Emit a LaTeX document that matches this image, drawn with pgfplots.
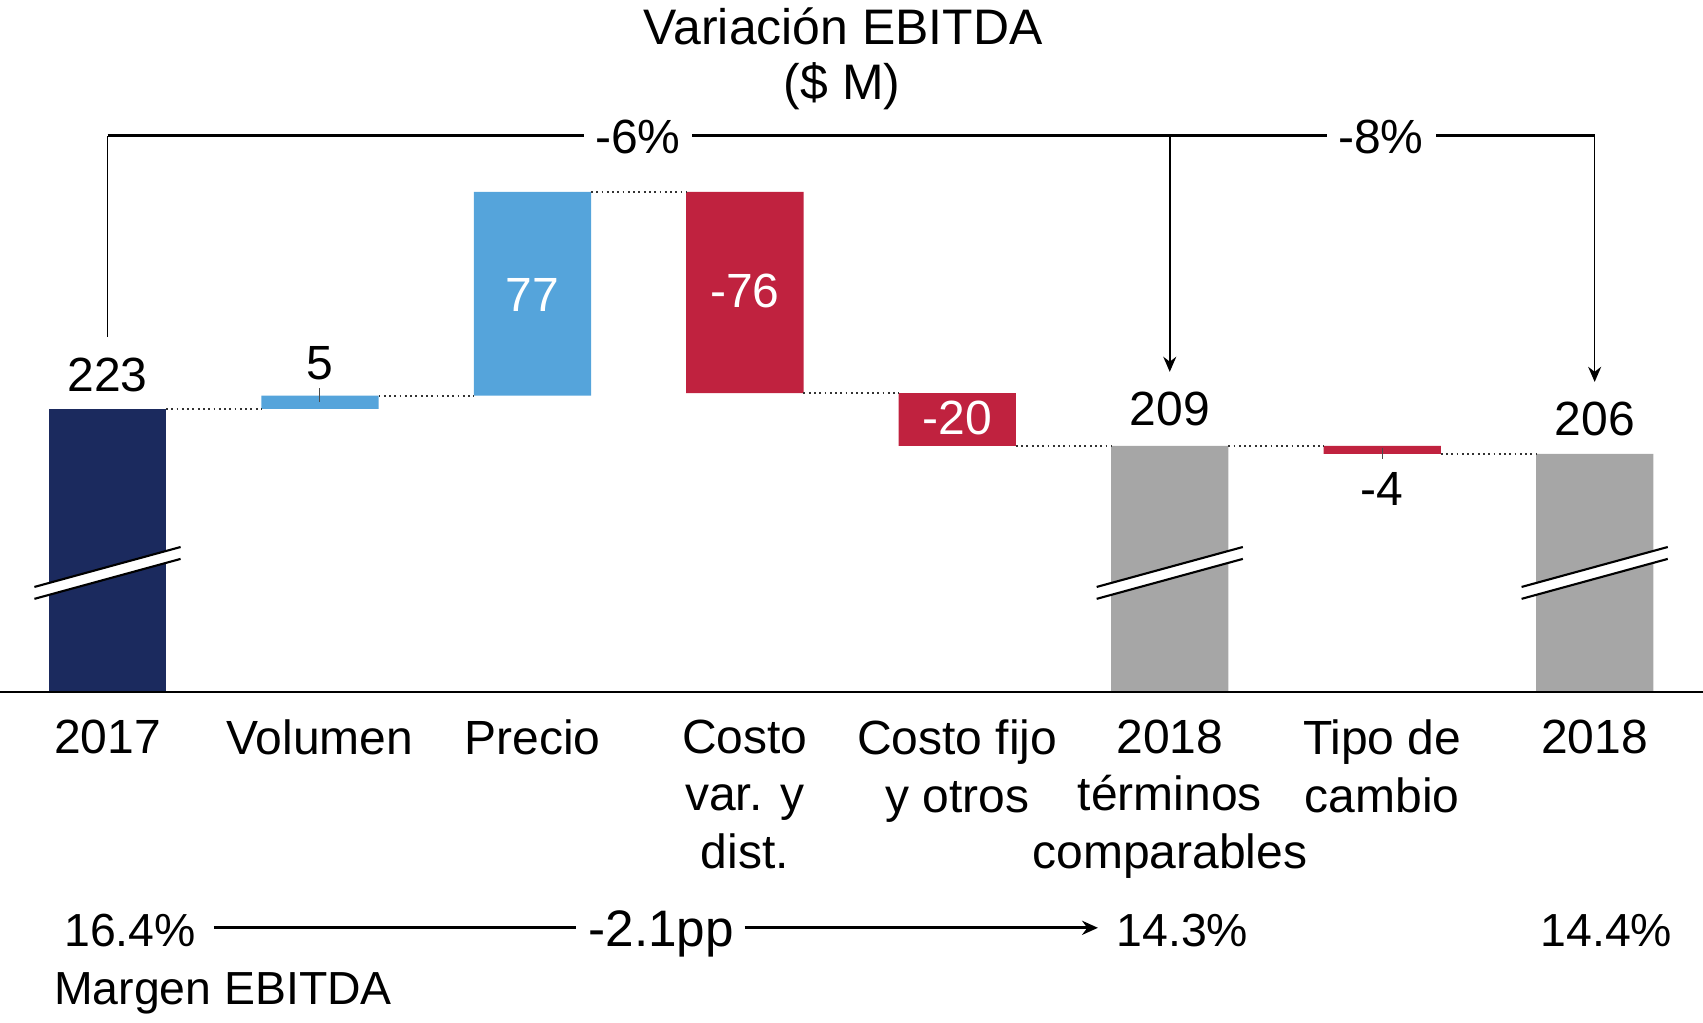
\documentclass[border=0pt]{standalone}
\usepackage{pgfplots}
\pgfplotsset{compat=1.18}
\usepackage{fontspec}
\setmainfont{Liberation Sans}
\usetikzlibrary{arrows.meta}
\definecolor{navy}{HTML}{1B2A5E}
\definecolor{cblue}{HTML}{55A4DB}
\definecolor{cred}{HTML}{C0223F}
\definecolor{cgray}{HTML}{A6A6A6}
\newcommand{\lab}{\fontsize{13.66}{16.5}\selectfont}
\newcommand{\brk}[1]{%
  \fill[white] (axis cs:#1-0.344,151.2) -- (axis cs:#1+0.344,166.3) -- (axis cs:#1+0.344,170.8) -- (axis cs:#1-0.344,155.7) -- cycle;
  \draw[line width=0.6pt] (axis cs:#1-0.344,151.2) -- (axis cs:#1+0.344,166.3);
  \draw[line width=0.6pt] (axis cs:#1-0.344,155.7) -- (axis cs:#1+0.344,170.8);}
\begin{document}
\begin{tikzpicture}
\pgfplotsset{wf/.style={scale only axis, width=17.03cm, height=6.92cm,
  xmin=-0.506, xmax=7.51, ymin=116, ymax=377.57}}
\begin{axis}[wf, ybar stacked, bar width=0.552, hide axis]
\addplot[draw=none, fill=none] coordinates {(0,0) (1,223) (2,228) (3,229) (4,209) (5,0) (6,206) (7,0)};
\addplot[draw=none, fill=navy] coordinates {(0,223) (1,0) (2,0) (3,0) (4,0) (5,0) (6,0) (7,0)};
\addplot[draw=none, fill=cblue] coordinates {(0,0) (1,5) (2,77) (3,0) (4,0) (5,0) (6,0) (7,0)};
\addplot[draw=none, fill=cred] coordinates {(0,0) (1,0) (2,0) (3,76) (4,20) (5,0) (6,3) (7,0)};
\addplot[draw=none, fill=cgray] coordinates {(0,0) (1,0) (2,0) (3,0) (4,0) (5,209) (6,0) (7,206)};
\end{axis}
\begin{axis}[wf, clip=false, axis x line*=bottom, axis y line=none,
  x axis line style={-, line width=0.6pt},
  xtick={0,...,7}, major tick length=0pt,
  xticklabels={2017, Volumen, Precio, {Costo\\var. y\\dist.}, {Costo fijo\\y otros}, {2018\\términos\\comparables}, {Tipo de\\cambio}, 2018},
  xticklabel style={align=center, anchor=north, inner sep=0pt, yshift=-0.268cm, font=\lab}]
\coordinate (BL) at (rel axis cs:0,0);
\coordinate (TR) at (rel axis cs:1,1);
% connectors
\addplot[black!80, densely dotted, line width=0.5pt, unbounded coords=jump] coordinates {
 (0.276,223) (0.724,223) (0.8,nan)
 (1.276,228) (1.724,228) (1.8,nan)
 (2.276,305) (2.724,305) (2.8,nan)
 (3.276,229) (3.724,229) (3.8,nan)
 (4.276,209) (4.724,209) (4.8,nan)
 (5.276,209) (5.724,209) (5.8,nan)
 (6.276,206) (6.724,206)};
% breaks
\brk{0}\brk{5}\brk{7}
% leader ticks
\draw[black!70, line width=0.3pt] (axis cs:1,230.9) -- (axis cs:1,225.6);
\draw[black!70, line width=0.3pt] (axis cs:6,208.3) -- (axis cs:6,204.1);
% value labels
\node[anchor=base, font=\lab] at (axis cs:0,229.4) {223};
\node[anchor=base, font=\lab] at (axis cs:1,234.3) {5};
\node[anchor=base, font=\lab, text=white] at (axis cs:2,259.7) {77};
\node[anchor=base, font=\lab, text=white] at (axis cs:3,261.2) {-76};
\node[anchor=base, font=\lab, text=white] at (axis cs:4,213.2) {-20};
\node[anchor=base, font=\lab] at (axis cs:5,216.6) {209};
\node[anchor=base, font=\lab] at (axis cs:6,186.3) {-4};
\node[anchor=base, font=\lab] at (axis cs:7,212.8) {206};
% title
\node[anchor=base, font=\fontsize{14.2}{17}\selectfont] at (axis cs:3.463,360.6) {Variación EBITDA};
\node[anchor=base, font=\fontsize{14.2}{17}\selectfont] at (axis cs:3.458,339.8) {(\$ M)};
% bracket
\draw[line width=0.43pt] (axis cs:0,250.2) -- (axis cs:0,326.2);
\draw[line width=0.8pt] (axis cs:0,326.2) -- (axis cs:2.243,326.2);
\draw[line width=0.8pt] (axis cs:2.752,326.2) -- (axis cs:5.741,326.2);
\draw[line width=0.8pt] (axis cs:6.254,326.2) -- (axis cs:7,326.2);
\draw[line width=0.43pt, -{Stealth[length=4.3pt, width=3.7pt]}] (axis cs:5,326.2) -- (axis cs:5,237.0);
\draw[line width=0.43pt, -{Stealth[length=4.3pt, width=3.7pt]}] (axis cs:7,326.2) -- (axis cs:7,233.2);
\node[anchor=base, font=\lab] at (axis cs:2.496,319.7) {-6\%};
\node[anchor=base, font=\lab] at (axis cs:5.993,319.7) {-8\%};
% margin row
\node[anchor=base, font=\fontsize{13.2}{16}\selectfont] at (axis cs:0.106,19.67) {16.4\%};
\node[anchor=base, font=\fontsize{14.6}{17}\selectfont] at (axis cs:2.606,19.67) {-2.1pp};
\node[anchor=base, font=\fontsize{13.2}{16}\selectfont] at (axis cs:5.059,19.67) {14.3\%};
\node[anchor=base, font=\fontsize{13.2}{16}\selectfont] at (axis cs:7.055,19.67) {14.4\%};
\node[anchor=base, font=\fontsize{13.2}{16}\selectfont] at (axis cs:0.544,-2.25) {Margen EBITDA};
\draw[line width=0.85pt] (axis cs:0.501,26.85) -- (axis cs:2.206,26.85);
\draw[line width=0.85pt, -{Stealth[length=4.5pt, width=4pt]}] (axis cs:2.999,26.85) -- (axis cs:4.662,26.85);
\end{axis}
\pgfresetboundingbox
\path[use as bounding box] ([yshift=-3.31cm]BL) rectangle (TR);
\end{tikzpicture}
\end{document}
